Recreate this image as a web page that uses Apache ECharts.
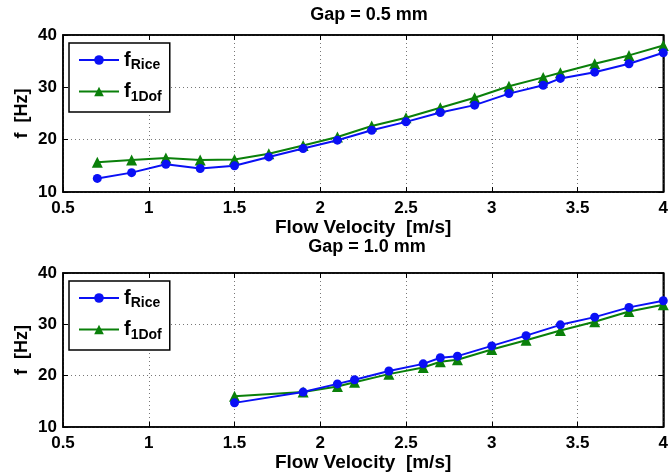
<!DOCTYPE html>
<html><head><meta charset="utf-8">
<script src="https://cdn.jsdelivr.net/npm/echarts@6/dist/echarts.min.js"></script>
<style>html,body{margin:0;padding:0;background:#fff}#c{width:671px;height:476px}</style>
</head><body><div id="c"></div>
<script>
const xTop = [0.7,0.9,1.1,1.3,1.5,1.7,1.9,2.1,2.3,2.5,2.7,2.9,3.1,3.3,3.4,3.6,3.8,4.0];
const riceTop = [12.6,13.7,15.3,14.5,15.0,16.7,18.3,19.9,21.8,23.4,25.2,26.6,28.8,30.4,31.7,32.9,34.5,36.6];
const dofTop  = [15.7,16.1,16.5,16.1,16.2,17.3,18.9,20.5,22.6,24.2,26.1,28.0,30.2,31.9,32.8,34.5,36.1,38.0];
const xBot = [1.5,1.9,2.1,2.2,2.4,2.6,2.7,2.8,3.0,3.2,3.4,3.6,3.8,4.0];
const riceBot = [14.7,16.8,18.4,19.2,20.9,22.3,23.5,23.8,25.8,27.8,29.9,31.4,33.3,34.6];
const dofBot  = [16.0,16.8,17.9,18.7,20.3,21.6,22.7,23.1,25.1,26.9,28.8,30.5,32.5,33.8];
const titles = ['Gap = 0.5 mm','Gap = 1.0 mm'];
const xName = 'Flow Velocity  [m/s]';
const yName = 'f  [Hz]';
const seriesNames = ['f_Rice','f_1Dof'];

const F = 'Liberation Sans, Arial, sans-serif';
const blue = '#0a10f5', green = '#0a800a';
function zip(xs, ys){ return xs.map((x,i)=>[x, ys[i]]); }

const grids = [
  {left:63, right:4, top:35, height:157, show:true, borderColor:'#000', borderWidth:1.5, backgroundColor:'#fff'},
  {left:63, right:4, top:273, height:154, show:true, borderColor:'#000', borderWidth:1.5, backgroundColor:'#fff'}
];
const grid = {show:true, lineStyle:{color:'#777', type:[1,3], width:1}};
function xa(i){ return {type:'value', gridIndex:i, min:0.5, max:4, interval:0.5,
  name:xName, nameLocation:'middle', nameGap:24,
  nameTextStyle:{fontFamily:F, fontWeight:'bold', fontSize:19, color:'#000'},
  axisLine:{show:true, lineStyle:{color:'#000', width:1.5}},
  axisTick:{inside:true, length:5, lineStyle:{color:'#000'}},
  axisLabel:{fontFamily:F, fontWeight:'bold', fontSize:17, color:'#000', margin:8},
  splitLine:grid}; }
function xaTop(i){ return {type:'value', gridIndex:i, min:0.5, max:4, interval:0.5, position:'top',
  axisLine:{show:true, lineStyle:{color:'#000', width:1.5}},
  axisTick:{inside:true, length:5, lineStyle:{color:'#000'}},
  axisLabel:{show:false}, splitLine:{show:false}}; }
function ya(i){ return {type:'value', gridIndex:i, min:10, max:40, interval:10,
  name:yName, nameLocation:'middle', nameGap:32, nameMoveOverlap:false,
  nameTextStyle:{fontFamily:F, fontWeight:'bold', fontSize:18, color:'#000'},
  axisLine:{show:true, lineStyle:{color:'#000', width:1.5}},
  axisTick:{inside:true, length:5, lineStyle:{color:'#000'}},
  axisLabel:{fontFamily:F, fontWeight:'bold', fontSize:17, color:'#000', margin:6},
  splitLine:grid}; }
function yaRight(i){ return {type:'value', gridIndex:i, min:10, max:40, interval:10, position:'right',
  axisLine:{show:true, lineStyle:{color:'#000', width:1.5}},
  axisTick:{inside:true, length:5, lineStyle:{color:'#000'}},
  axisLabel:{show:false}, splitLine:{show:false}}; }

function ser(name, i, xs, ys, color, sym, size){
  return {name, type:'line', xAxisIndex:i, yAxisIndex:i, data:zip(xs,ys),
    symbol:sym, symbolSize:size, showSymbol:true,
    lineStyle:{color, width:2}, itemStyle:{color}, z: name.indexOf('Rice')>=0?3:2};
}
const rich = {f:{fontFamily:F, fontWeight:'bold', fontSize:20, color:'#000'},
  s:{fontFamily:F, fontWeight:'bold', fontSize:14, color:'#000', padding:[11,0,0,0]}};
function legend(top){
  return {top, left:69, orient:'vertical', itemWidth:40, itemHeight:12, itemGap:9,
    backgroundColor:'#fff', borderColor:'#000', borderWidth:1.5, padding:[7,8,8,9],
    data:seriesNames,
    formatter: n => '{f|f}{s|' + n.split('_')[1] + '}',
    textStyle:{rich}};
}
const chart = echarts.init(document.getElementById('c'), null, {renderer:'canvas'});
chart.setOption({
  animation:false,
  title:[
    {text:titles[0], left:364, textAlign:'center', top:1, textStyle:{fontFamily:F, fontWeight:'bold', fontSize:18, color:'#000'}},
    {text:titles[1], left:362, textAlign:'center', top:233, textStyle:{fontFamily:F, fontWeight:'bold', fontSize:18, color:'#000'}}
  ],
  grid:grids,
  xAxis:[xa(0), xa(1), xaTop(0), xaTop(1)],
  yAxis:[ya(0), ya(1), yaRight(0), yaRight(1)],
  legend:[legend(43), legend(281)],
  series:[
    ser('f_1Dof',0,xTop,dofTop,green,'triangle',11),
    ser('f_Rice',0,xTop,riceTop,blue,'circle',9),
    ser('f_1Dof',1,xBot,dofBot,green,'triangle',11),
    ser('f_Rice',1,xBot,riceBot,blue,'circle',9)
  ]
});
</script></body></html>
